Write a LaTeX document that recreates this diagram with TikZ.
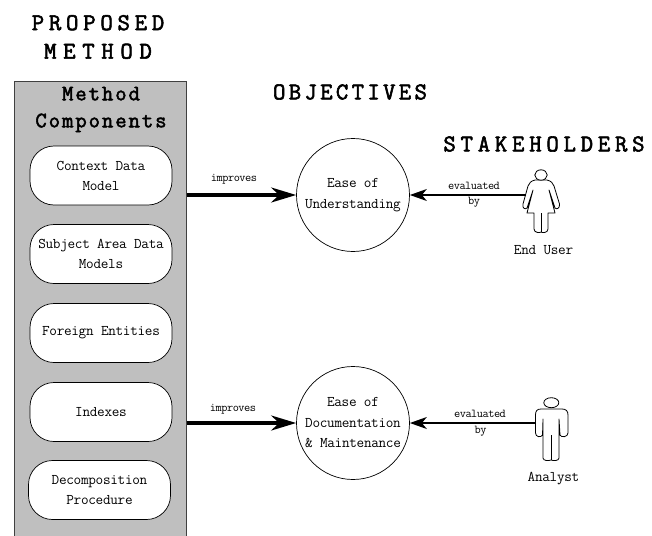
\documentclass[tikz,border=0pt]{standalone}
\usepackage{fontspec}
\newfontfamily\titlef[LetterSpace=20,FakeBold=2.4]{Latin Modern Mono}
\newfontfamily\methf[LetterSpace=28,FakeBold=2.4]{Latin Modern Mono}
\newfontfamily\objf[LetterSpace=14,FakeBold=2.4]{Latin Modern Mono}
\newfontfamily\headf[LetterSpace=9,FakeBold=2.4]{Latin Modern Mono}
\newfontfamily\bodyf[LetterSpace=-2]{Latin Modern Mono}
\newfontfamily\smallf[LetterSpace=-4]{Latin Modern Mono}
\usetikzlibrary{arrows.meta}
\tikzset{
  title/.style={font=\titlef\fontsize{24}{28.5}\selectfont,align=center,inner sep=0pt},
  pill/.style={draw,fill=white,line width=0.7pt,minimum width=142pt,minimum height=59pt,rounded corners=24pt,
    font=\bodyf\fontsize{14.8}{20}\selectfont,align=center,inner sep=0pt},
  goal/.style={draw,fill=white,circle,line width=0.7pt,minimum size=113pt,inner sep=0pt,
    font=\bodyf\fontsize{14.8}{20.5}\selectfont,align=center},
  lab/.style={font=\smallf\fontsize{12}{16}\selectfont,inner sep=0pt},
  who/.style={font=\bodyf\fontsize{14.8}{16}\selectfont,inner sep=0pt},
  fat/.style={line width=3.6pt,-{Stealth[length=25pt,width=15pt,inset=8pt]}},
  thinarr/.style={line width=1.4pt,-{Stealth[length=17pt,width=12pt,inset=5pt]}},
  person/.style={line width=0.8pt,line join=round,fill=white},
}
\begin{document}
\begin{tikzpicture}[x=1pt,y=-1pt]
\useasboundingbox (0,0) rectangle (652,535);
\clip (0,0) rectangle (652,535);
\node[title] (t1) at (98,37) {PROPOSED\\{\methf METHOD}};
\node[title,font=\objf\fontsize{24}{28.5}\selectfont] (t2) at (350,92) {OBJECTIVES};
\node[title] (t3) at (544,144) {STAKEHOLDERS};
% panel
\node[draw=black!75,fill=black!25,line width=0.7pt,minimum width=172.5pt,minimum height=470pt,anchor=north west,inner sep=0pt] (panel) at (13.5,81) {};
\node[font=\headf\fontsize{22}{27}\selectfont,align=center,inner sep=0pt] (ph) at (101,109.5) {Method\\Components};
\node[pill] (p1) at (101,175.5) {Context Data\\Model};
\node[pill] (p2) at (101,254) {Subject Area Data\\Models};
\node[pill] (p3) at (101,333) {Foreign Entities};
\node[pill] (p4) at (101,412) {Indexes};
\node[pill] (p5) at (99.5,490) {Decomposition\\Procedure};
% objectives
\node[goal] (g1) at (353,195) {Ease of\\Understanding};
\node[goal] (g2) at (353,423) {Ease of\\Documentation\\\& Maintenance};
% actors
\coordinate (u1) at (526,195);
\coordinate (u2) at (536,423);
\draw[person]
 (535,180) -- (547,180) .. controls (551,181) and (553,183) .. (554,186)
 -- (559.5,204) .. controls (560,208) and (557,210) .. (555,208)
 -- (549,190) -- (555,213) -- (548,213) -- (548,229)
 .. controls (548,233) and (542,233) .. (541,232)
 .. controls (540,233) and (534,233) .. (534,229)
 -- (534,213) -- (527,213) -- (533,190) -- (527,208)
 .. controls (525,210) and (522,208) .. (523,204) -- (528,186)
 .. controls (529,183) and (531,181) .. (535,180) -- cycle;
\draw[line width=0.8pt] (541,213) -- (541,232);
\draw[person] (541,175) ellipse [x radius=6.2pt,y radius=5.2pt];
\draw[person]
 (541,409) -- (562,409) .. controls (566,409) and (568,411) .. (568,415)
 -- (568,433) .. controls (568,437) and (561,438) .. (560,435)
 -- (559,419) -- (559,458) .. controls (559,461) and (553,461) .. (551,460)
 .. controls (549,461) and (543,461) .. (543,458)
 -- (543,419) -- (542.5,435) .. controls (541,438) and (535.5,437) .. (535.5,433)
 -- (535.5,415) .. controls (535.5,411) and (537,409) .. (541,409) -- cycle;
\draw[line width=0.8pt] (551,435) -- (551,460);
\draw[person] (551.3,402.7) ellipse [x radius=7.5pt,y radius=5pt];
% connectors
\draw[fat] (panel.east |- g1.west) -- (g1.west);
\draw[fat] (panel.east |- g2.west) -- (g2.west);
\draw[thinarr] (u1) -- (g1.east);
\draw[thinarr] (u2) -- (g2.east);
% labels
\node[lab] (l1) at (234,179.5) {improves};
\node[lab] (l2) at (233,409) {improves};
\node[lab] (e1) at (474,186) {evaluated};
\node[lab,fill=white,inner xsep=1pt,inner ysep=0.5pt] (b1) at (474,202) {by};
\node[lab] (e2) at (480,414) {evaluated};
\node[lab,fill=white,inner xsep=1pt,inner ysep=0.5pt] (b2) at (480.5,431) {by};
\node[who] (w1) at (543.5,250) {End User};
\node[who] (w2) at (553.5,479) {Analyst};
\end{tikzpicture}
\end{document}
